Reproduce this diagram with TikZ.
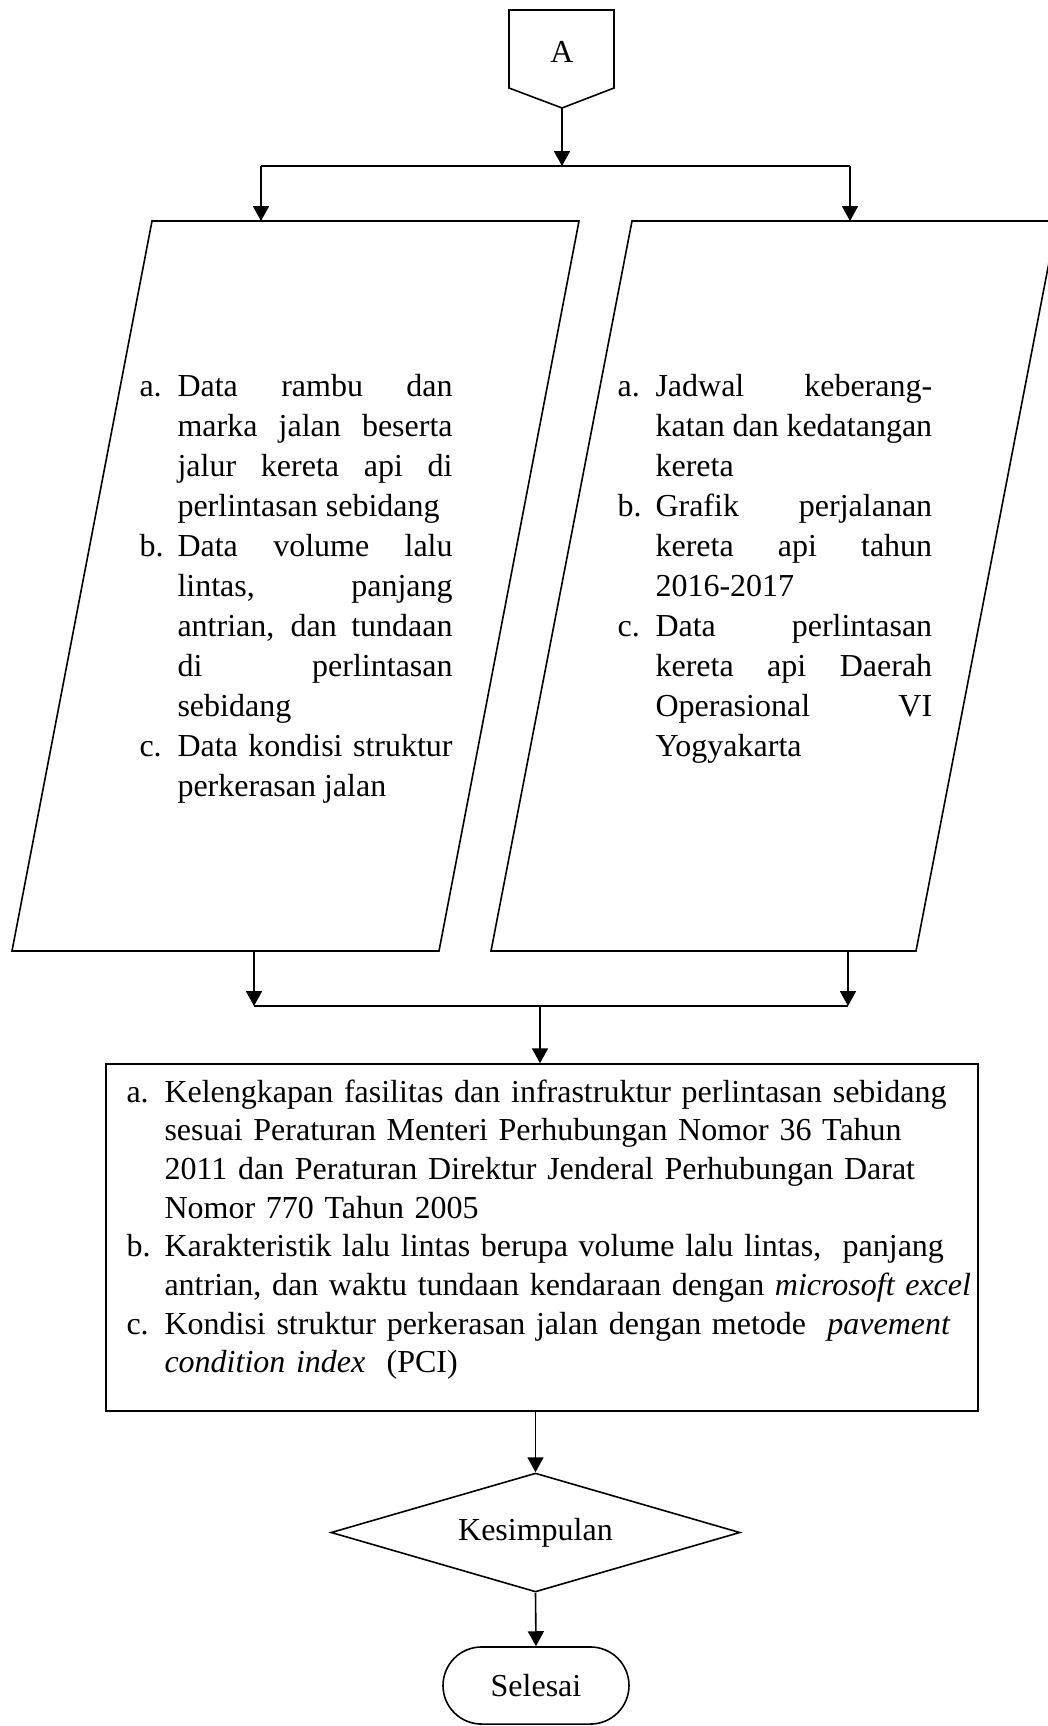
\documentclass[tikz,border=0pt]{standalone}
\usepackage{fontspec}
\setmainfont{Liberation Serif}
\usetikzlibrary{arrows.meta,shapes.geometric,shapes.misc}

\newcommand{\butir}[2]{\noindent\tolerance=10000\relax\hyphenpenalty=10000\relax
  \hangindent=14.25pt\hangafter=1\relax\makebox[14.25pt][l]{#1}#2\par}

\begin{document}
\begin{tikzpicture}[x=0.375pt,y=-0.375pt,
    >={Triangle[length=5.6pt,width=6pt]},
    garis/.style={line width=0.6pt},
    panah/.style={garis,->},
    isi/.style={anchor=base west,inner sep=0pt,align=justify,
      font=\fontsize{12}{15}\selectfont},
    isikotak/.style={anchor=base west,inner sep=0pt,align=left,
      font=\fontsize{12}{14.5}\selectfont},
    label/.style={inner sep=0pt,font=\fontsize{12}{14}\selectfont}]
  \useasboundingbox (0,0) rectangle (1048,1726);
  \clip (0,0) rectangle (1048,1726);

  % konektor A
  \draw[garis] (509,10) -- (614,10) -- (614,88) -- (562,108) -- (509,88) -- cycle;
  \node[label] (A) at (562,52) {A};
  \coordinate (Aujung) at (562,108);

  \coordinate (cabang) at (562,166);
  \coordinate (cabangL) at (261,166);
  \coordinate (cabangR) at (850,166);
  \coordinate (masukL) at (261,221);
  \coordinate (masukR) at (850,221);
  \draw[panah] (Aujung) -- (cabang);
  \draw[garis] (cabangL) -- (cabangR);
  \draw[panah] (cabangL) -- (masukL);
  \draw[panah] (cabangR) -- (masukR);

  % data input
  \draw[garis] (152,221) -- (579,221) -- (439,951) -- (12,951) -- cycle;
  \draw[garis] (632,221) -- (1057,221) -- (916,951) -- (491,951) -- cycle;

  \node[isi,text width=117.4pt] (dataL) at (139,396) {%
    \butir{a.}{Data rambu dan\linebreak marka jalan beserta\linebreak
      jalur kereta api di\linebreak perlintasan sebidang}%
    \butir{b.}{Data volume lalu\linebreak lintas, panjang\linebreak
      antrian, dan tundaan\linebreak di perlintasan\linebreak sebidang}%
    \butir{c.}{Data kondisi struktur\linebreak perkerasan jalan}};
  \node[isi,text width=118pt] (dataR) at (617,396) {%
    \butir{a.}{Jadwal keberang-\linebreak katan dan kedatangan\linebreak kereta}%
    \butir{b.}{Grafik perjalanan\linebreak kereta api tahun\linebreak 2016-2017}%
    \butir{c.}{Data perlintasan\linebreak kereta api Daerah\linebreak
      Operasional VI\linebreak Yogyakarta}};

  \coordinate (keluarL) at (254,951);
  \coordinate (keluarR) at (848,951);
  \coordinate (gabungL) at (254,1006);
  \coordinate (gabungR) at (848,1006);
  \coordinate (gabung) at (540,1006);
  \draw[panah] (keluarL) -- (gabungL);
  \draw[panah] (keluarR) -- (gabungR);
  \draw[garis] (gabungL) -- (gabungR);

  % analisis
  \node[draw,garis,inner sep=0pt,minimum width=327pt,minimum height=130.1pt]
    (hasil) at (542,1237.5) {};
  \node[isikotak,text width=318pt] (hasilteks) at (126,1102) {%
    \butir{a.}{Kelengkapan fasilitas dan infrastruktur perlintasan sebidang\newline
      sesuai Peraturan Menteri Perhubungan Nomor 36 Tahun\newline
      2011 dan Peraturan Direktur Jenderal Perhubungan Darat\newline
      Nomor 770 Tahun 2005}%
    \butir{b.}{Karakteristik lalu lintas berupa volume lalu lintas,\ \ panjang\newline
      antrian, dan waktu tundaan kendaraan dengan \textit{microsoft excel}}%
    \butir{c.}{Kondisi struktur perkerasan jalan dengan metode\ \ \textit{pavement}\newline
      \textit{condition index}\ \ (PCI)}};
  \draw[panah] (gabung) -- (gabung |- hasil.north);

  % kesimpulan dan selesai
  \node[diamond,draw,garis,aspect=3.4,inner sep=0pt,minimum width=153.4pt,
    minimum height=44.6pt,font=\fontsize{12}{14}\selectfont]
    (kesimpulan) at (535.5,1532.5) {Kesimpulan};
  \node[rounded rectangle,draw,garis,inner sep=0pt,minimum width=69.75pt,
    minimum height=28.9pt,font=\fontsize{12}{14}\selectfont]
    (selesai) at (536,1685.5) {Selesai};
  \draw[panah] (kesimpulan.north |- hasil.south) -- (kesimpulan.north);
  \draw[panah] (kesimpulan.south) -- (selesai.north);
\end{tikzpicture}
\end{document}
